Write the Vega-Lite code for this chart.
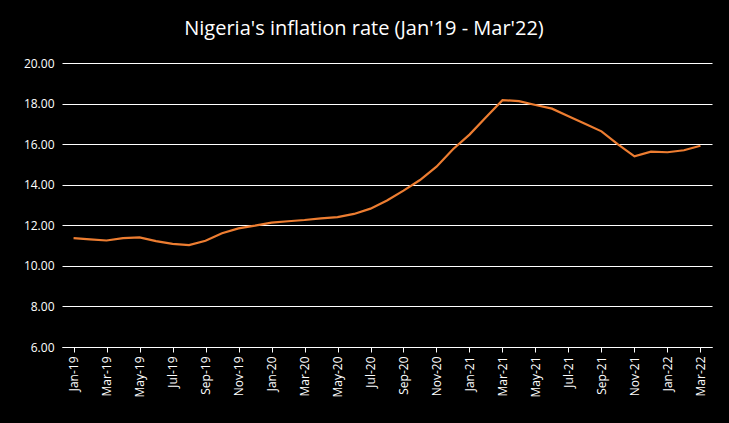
{
"$schema":"https://vega.github.io/schema/vega-lite/v6.json",
"autosize":"none","width":650,"height":284,
"padding":{"left":62,"top":63,"right":17,"bottom":76},
"background":"black",
"config":{"view":{"stroke":null},"font":"Open Sans"},
"title":{"text":"Nigeria's inflation rate (Jan'19 - Mar'22)","color":"white","fontSize":20,"fontWeight":"normal","offset":18,"anchor":"middle","dx":-23},
"data":{"values":[
{"m":"Jan-19","v":11.37},{"m":"Feb-19","v":11.31},{"m":"Mar-19","v":11.25},{"m":"Apr-19","v":11.37},{"m":"May-19","v":11.40},{"m":"Jun-19","v":11.22},{"m":"Jul-19","v":11.08},{"m":"Aug-19","v":11.02},{"m":"Sep-19","v":11.24},{"m":"Oct-19","v":11.61},{"m":"Nov-19","v":11.85},{"m":"Dec-19","v":11.98},
{"m":"Jan-20","v":12.13},{"m":"Feb-20","v":12.20},{"m":"Mar-20","v":12.26},{"m":"Apr-20","v":12.34},{"m":"May-20","v":12.40},{"m":"Jun-20","v":12.56},{"m":"Jul-20","v":12.82},{"m":"Aug-20","v":13.22},{"m":"Sep-20","v":13.71},{"m":"Oct-20","v":14.23},{"m":"Nov-20","v":14.89},{"m":"Dec-20","v":15.75},
{"m":"Jan-21","v":16.47},{"m":"Feb-21","v":17.33},{"m":"Mar-21","v":18.17},{"m":"Apr-21","v":18.12},{"m":"May-21","v":17.93},{"m":"Jun-21","v":17.75},{"m":"Jul-21","v":17.38},{"m":"Aug-21","v":17.01},{"m":"Sep-21","v":16.63},{"m":"Oct-21","v":15.99},{"m":"Nov-21","v":15.40},{"m":"Dec-21","v":15.63},
{"m":"Jan-22","v":15.60},{"m":"Feb-22","v":15.70},{"m":"Mar-22","v":15.92}
]},
"mark":{"type":"line","color":"#ED7D31","strokeWidth":2.2},
"encoding":{
"x":{"field":"m","type":"ordinal","sort":null,"title":null,"scale":{"type":"point","padding":0.7},
"axis":{"values":["Jan-19","Mar-19","May-19","Jul-19","Sep-19","Nov-19","Jan-20","Mar-20","May-20","Jul-20","Sep-20","Nov-20","Jan-21","Mar-21","May-21","Jul-21","Sep-21","Nov-21","Jan-22","Mar-22"],"labelAngle":-90,"labelColor":"white","labelFontSize":12,"domainColor":"white","tickColor":"white","labelPadding":4}},
"y":{"field":"v","type":"quantitative","title":null,"scale":{"domain":[6,20]},
"axis":{"values":[6,8,10,12,14,16,18,20],"format":".2f","labelColor":"white","labelFontSize":12,"domain":false,"ticks":false,"gridColor":"white","gridOpacity":1,"labelPadding":8}}
}
}
